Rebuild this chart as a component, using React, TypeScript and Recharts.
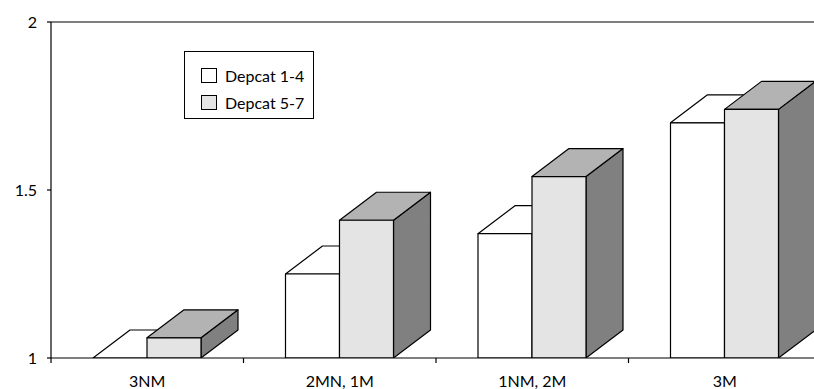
import React from 'react';
import {
  BarChart,
  Bar,
  XAxis,
  YAxis,
  ReferenceLine,
  Legend,
} from 'recharts';

const categories = ['3NM', '2MN, 1M', '1NM, 2M', '3M'];
const depcat14 = [1.0, 1.25, 1.37, 1.7];
const depcat57 = [1.06, 1.41, 1.54, 1.74];
const yTicks = [1, 1.5, 2];

const data = categories.map((name, i) => ({
  name,
  d14: depcat14[i],
  d57: depcat57[i],
}));

const WIDTH = 814;
const HEIGHT = 389;
const X_AXIS_H = 30;
const Y_AXIS_W = 51;
const MARGIN = { top: 22, right: -7, bottom: 1, left: 0 };
const BAND = (WIDTH - Y_AXIS_W - MARGIN.left - MARGIN.right) / categories.length;

// depth offset of the extruded bars
const DX = 37;
const DY = 28;
const FONT = 'Lato, "Open Sans", sans-serif';

const makeBar3D = (front: string, top: string, side: string) => (props: any) => {
  const { x, y, width, height } = props;
  if (x == null || y == null) return <g />;
  const w = width;
  const h = Math.max(0, height);
  return (
    <g stroke="#000" strokeWidth={1.2} strokeLinejoin="round">
      <path
        d={`M${x + w},${y} L${x + w + DX},${y - DY} L${x + w + DX},${y + h - DY} L${x + w},${y + h} Z`}
        fill={side}
      />
      <path
        d={`M${x},${y} L${x + DX},${y - DY} L${x + w + DX},${y - DY} L${x + w},${y} Z`}
        fill={top}
      />
      <rect x={x} y={y} width={w} height={h} fill={front} />
    </g>
  );
};

const WhiteBar = makeBar3D('#ffffff', '#ffffff', '#ffffff');
const GreyBar = makeBar3D('#e4e4e4', '#b3b3b3', '#808080');

const CategoryTick = ({ x, y, payload }: any) => (
  <g>
    <line x1={x - BAND / 2} x2={x - BAND / 2} y1={y} y2={y + 5} stroke="#000" strokeWidth={1.2} />
    <text
      x={x}
      y={y + 29}
      textAnchor="middle"
      fontFamily={FONT}
      fontSize={16}
      fill="#000"
    >
      {payload.value}
    </text>
  </g>
);

const LegendBox = () => (
  <div
    style={{
      width: 130,
      height: 68,
      border: '1px solid #000',
      background: '#fff',
      fontFamily: FONT,
      fontSize: 16,
      color: '#000',
      boxSizing: 'border-box',
      paddingTop: 10,
      paddingLeft: 16,
    }}
  >
    {[
      { label: 'Depcat 1-4', fill: '#ffffff' },
      { label: 'Depcat 5-7', fill: '#e4e4e4' },
    ].map((item) => (
      <div key={item.label} style={{ display: 'flex', alignItems: 'center', height: 27 }}>
        <span
          style={{
            width: 16,
            height: 15,
            border: '1px solid #000',
            background: item.fill,
            boxSizing: 'border-box',
            marginRight: 8,
          }}
        />
        <span>{item.label}</span>
      </div>
    ))}
  </div>
);

export default function App() {
  return (
    <div style={{ position: 'absolute', left: 0, top: 0, width: WIDTH, height: HEIGHT, background: '#fff', overflow: 'hidden' }}>
      <BarChart width={WIDTH} height={HEIGHT} data={data} margin={MARGIN} barGap={0} barSize={54}>
        <ReferenceLine y={2} stroke="#000" strokeWidth={1.2} ifOverflow="visible" />
        <XAxis
          dataKey="name"
          height={X_AXIS_H}
          axisLine={{ stroke: '#000', strokeWidth: 1.2 }}
          tickLine={false}
          tickSize={0}
          tickMargin={0}
          tick={<CategoryTick />}
          interval={0}
        />
        <YAxis
          width={Y_AXIS_W}
          domain={[1, 2]}
          ticks={yTicks}
          allowDataOverflow
          axisLine={{ stroke: '#000', strokeWidth: 1.2 }}
          tickLine={{ stroke: '#000', strokeWidth: 1.2 }}
          tickSize={4}
          tickMargin={10}
          tick={{ fill: '#000', fontFamily: FONT, fontSize: 16 }}
        />
        <Legend
          layout="vertical"
          align="center"
          verticalAlign="middle"
          content={<LegendBox />}
          wrapperStyle={{ position: 'absolute', left: 184, top: 51, width: 130 }}
        />
        <Bar dataKey="d14" name="Depcat 1-4" shape={WhiteBar} isAnimationActive={false} />
        <Bar dataKey="d57" name="Depcat 5-7" shape={GreyBar} isAnimationActive={false} />
      </BarChart>
    </div>
  );
}
